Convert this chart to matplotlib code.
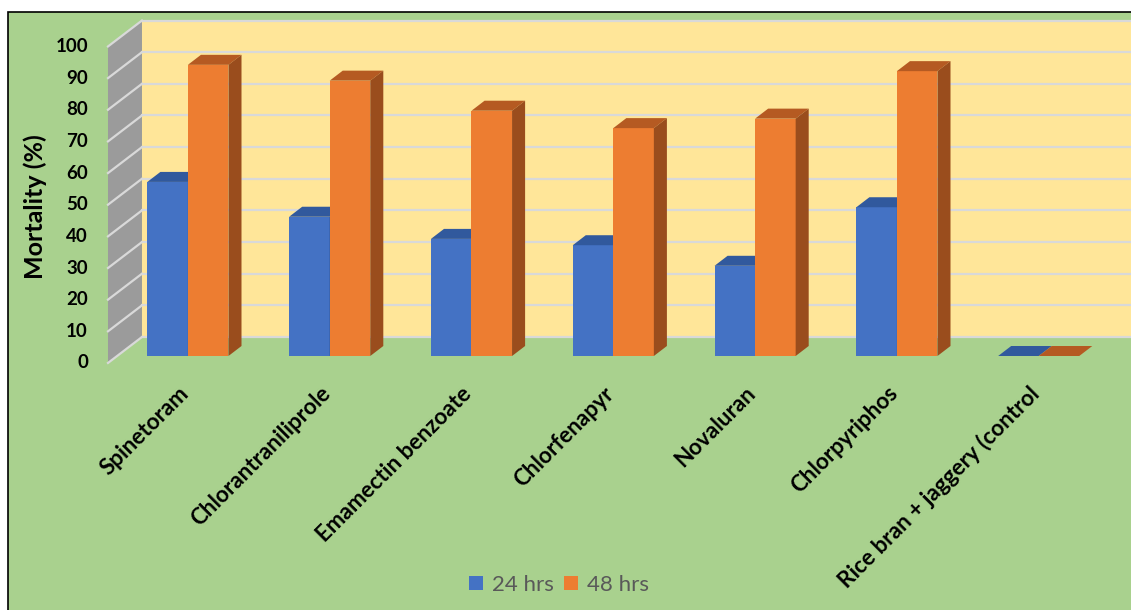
import matplotlib
matplotlib.use('Agg')
import matplotlib.pyplot as plt
from matplotlib.patches import Polygon, Rectangle, Patch
import numpy as np

plt.rcParams['font.family'] = ['Lato', 'DejaVu Sans']

# data
categories = ['Spinetoram', 'Chlorantraniliprole', 'Emamectin benzoate',
              'Chlorfenapyr', 'Novaluran', 'Chlorpyriphos',
              'Rice bran + jaggery (control']
hrs24 = [55, 44, 37, 35, 28.5, 47, 0]
hrs48 = [92, 87, 77.5, 72, 75, 90, 0]
series_names = ['24 hrs', '48 hrs']
yticks = list(range(0, 101, 10))

# colours: front, top, side
BLUE = ('#4472C4', '#31599D', '#2B4C86')
ORANGE = ('#ED7D31', '#B55A22', '#9A4D1D')
BG = '#A9D18E'
WALL = '#FFE699'
SIDE = '#9B9B9B'
GRID = '#D9D9D9'

# oblique offsets (x in category units, y in value units)
bdx, bdy = 0.176, 6.0      # back wall relative to bar front plane
fdx, fdy = -0.0635, -2.2   # front floor edge
ddx, ddy = 0.092, 3.16     # bar depth
bw = 0.286

fig = plt.figure(figsize=(11.31, 6.10), dpi=100)
fig.patches.append(Rectangle((8 / 1131, -0.1), 1.2, (610 - 12) / 610 + 0.1,
                             transform=fig.transFigure, facecolor=BG,
                             edgecolor='black', lw=1.2, zorder=-5))

ax = fig.add_axes([117 / 1131, 254 / 610, 992.6 / 1131, 316.5 / 610])
ax.set_zorder(1)
ax.set_xlim(-0.5, 6.5)
ax.set_ylim(0, 100)
ax.axis('off')

n = len(categories)
xl = -0.5
# back wall
ax.add_patch(Polygon([(xl + bdx, bdy), (n + bdx, bdy), (n + bdx, 100 + bdy),
                      (xl + bdx, 100 + bdy)], closed=True, facecolor=WALL,
                     edgecolor='none', clip_on=False, zorder=1))
# side wall
ax.add_patch(Polygon([(xl + fdx, fdy), (xl + bdx, bdy), (xl + bdx, 100 + bdy),
                      (xl + fdx, 100 + fdy)], closed=True, facecolor=SIDE,
                     edgecolor='none', clip_on=False, zorder=1))
for v in yticks:
    ax.plot([xl + bdx, n + bdx], [v + bdy, v + bdy], color=GRID, lw=1.6,
            clip_on=False, zorder=2)
    ax.plot([xl + fdx, xl + bdx], [v + fdy, v + bdy], color=GRID, lw=1.6,
            clip_on=False, zorder=2)
    ax.text(xl - 0.205, v + fdy, str(v), ha='right', va='center',
            fontsize=13.5, fontweight='bold', color='black')


def bar3d(x0, v, cols, z):
    x1 = x0 + bw
    ax.add_patch(Polygon([(x0, 0), (x1, 0), (x1, v), (x0, v)], closed=True,
                         facecolor=cols[0], edgecolor='none', clip_on=False, zorder=z))
    ax.add_patch(Polygon([(x0, v), (x1, v), (x1 + ddx, v + ddy), (x0 + ddx, v + ddy)],
                         closed=True, facecolor=cols[1], edgecolor='none',
                         clip_on=False, zorder=z))
    if v > 0:
        ax.add_patch(Polygon([(x1, 0), (x1 + ddx, ddy), (x1 + ddx, v + ddy), (x1, v)],
                             closed=True, facecolor=cols[2], edgecolor='none',
                             clip_on=False, zorder=z))


x = np.arange(n)
for i in range(n):
    bar3d(x[i] - bw, hrs24[i], BLUE, 3 + 2 * i)
    bar3d(x[i], hrs48[i], ORANGE, 4 + 2 * i)
    ax.text(x[i] - 0.02, -10.8, categories[i], rotation=45, rotation_mode='anchor',
            ha='right', va='center', fontsize=16.2, fontweight='bold', color='black')

fig.text(35 / 1131, 1 - 207 / 610, 'Mortality (%)', rotation=90, ha='center',
         va='center', fontsize=18, fontweight='bold', color='black')

handles = [Patch(facecolor=BLUE[0]), Patch(facecolor=ORANGE[0])]
leg = fig.legend(handles, series_names, loc='center', bbox_to_anchor=(559 / 1131, 25 / 610),
                 ncol=2, frameon=False, fontsize=16, handlelength=0.6,
                 handleheight=0.6, handletextpad=0.4, columnspacing=0.5)
for t in leg.get_texts():
    t.set_color('#595959')

fig.savefig('out.png', dpi=100, facecolor='white')
